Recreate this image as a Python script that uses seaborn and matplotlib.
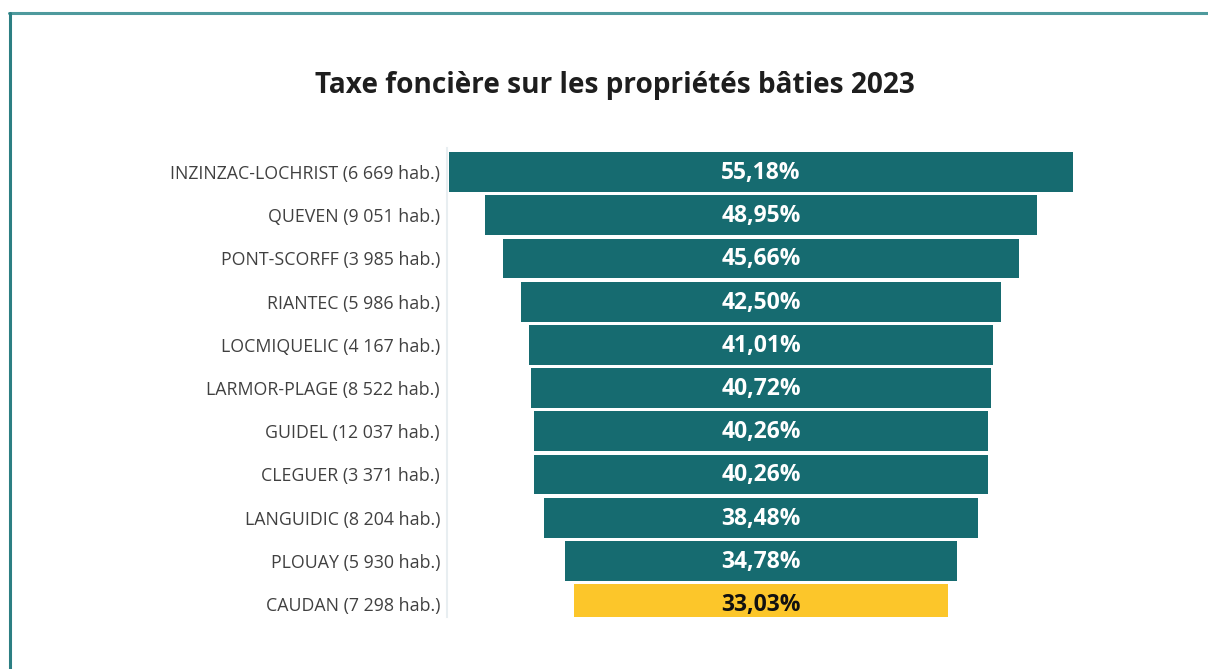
import matplotlib
matplotlib.use("Agg")
import matplotlib.pyplot as plt
import seaborn as sns
import pandas as pd
from matplotlib.lines import Line2D

communes = ["INZINZAC-LOCHRIST (6 669 hab.)", "QUEVEN (9 051 hab.)", "PONT-SCORFF (3 985 hab.)",
            "RIANTEC (5 986 hab.)", "LOCMIQUELIC (4 167 hab.)", "LARMOR-PLAGE (8 522 hab.)",
            "GUIDEL (12 037 hab.)", "CLEGUER (3 371 hab.)", "LANGUIDIC (8 204 hab.)",
            "PLOUAY (5 930 hab.)", "CAUDAN (7 298 hab.)"]
taux = [55.18, 48.95, 45.66, 42.50, 41.01, 40.72, 40.26, 40.26, 38.48, 34.78, 33.03]
highlight = "CAUDAN (7 298 hab.)"

TEAL = "#166b70"
YELLOW = "#fcc62a"

sns.set_theme(style="white")
plt.rcParams['font.family'] = ['Open Sans', 'DejaVu Sans']

df = pd.DataFrame({"commune": communes, "taux": taux})
colors = {c: (YELLOW if c == highlight else TEAL) for c in communes}

fig = plt.figure(figsize=(12.08, 6.69), dpi=100)
ax = fig.add_axes([447/1208, 1 - 617/669, 628/1208, 468.7/669])

sns.barplot(data=df, x="taux", y="commune", hue="commune", palette=colors,
            order=communes, hue_order=communes, legend=False, width=0.92,
            saturation=1, linewidth=0, ax=ax)

# center bars (funnel)
for p in ax.patches:
    w = p.get_width()
    p.set_x(-w / 2)

for i, (c, v) in enumerate(zip(communes, taux)):
    is_hl = c == highlight
    ax.text(0, i + 0.02, f"{v:.2f}".replace(".", ",") + "%", ha="center", va="center",
            fontsize=16.5, fontweight="bold", color="#111111" if is_hl else "white")

ax.set_xlim(-27.8, 27.8)
ax.set_ylim(10.3, -0.55)
ax.set_xlabel("")
ax.set_ylabel("")
ax.set_xticks([])
ax.tick_params(axis="y", length=0, pad=5, labelsize=12.8, labelcolor="#404040")
for s in ["top", "right", "bottom"]:
    ax.spines[s].set_visible(False)
ax.spines["left"].set_color("#e8eef1")
ax.spines["left"].set_linewidth(1.5)

fig.text(615/1208, 1 - 85/669, "Taxe foncière sur les propriétés bâties 2023",
         ha="center", va="center", fontsize=20.2, fontweight="bold", color="#1e1e1e")

# frame lines
fig.add_artist(Line2D([9/1208, 1], [1 - 13/669, 1 - 13/669], color="#4e9a9d", lw=2.2,
                      transform=fig.transFigure))
fig.add_artist(Line2D([10/1208, 10/1208], [0, 1 - 13/669], color="#2c7f83", lw=2.2,
                      transform=fig.transFigure))

fig.savefig("out.png", dpi=100, facecolor="white")
